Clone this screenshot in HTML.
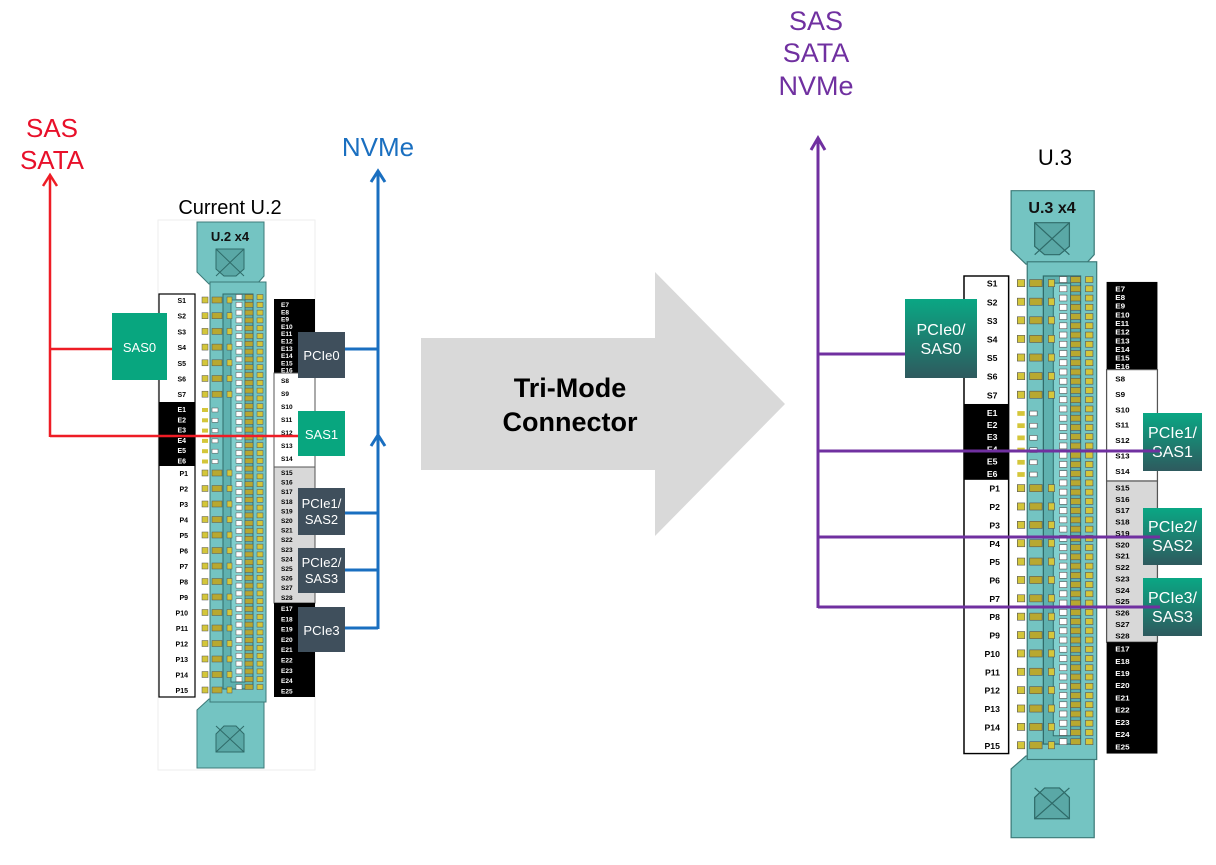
<!DOCTYPE html>
<html><head><meta charset="utf-8"><style>
html,body{margin:0;padding:0;background:#fff;}
svg{display:block;font-family:"Liberation Sans",sans-serif;}
</style></head><body>
<svg id="s" width="1216" height="865" viewBox="0 0 1216 865" xmlns="http://www.w3.org/2000/svg">
<defs>
<linearGradient id="gg" x1="0" y1="0" x2="0" y2="1"><stop offset="0" stop-color="#0aa784"/><stop offset="1" stop-color="#2e5a5e"/></linearGradient>
</defs>
<polygon points="421,338 655,338 655,272 785,404 655,536 655,470 421,470" fill="#d9d9d9"/>
<text x="570" y="397" font-size="27" font-weight="bold" text-anchor="middle">Tri-Mode</text>
<text x="570" y="431" font-size="27" font-weight="bold" text-anchor="middle">Connector</text>

<g id="c1"></g>
<g id="c2"></g>

<text x="52" y="137" font-size="26" fill="#e8102a" text-anchor="middle">SAS</text>
<text x="52" y="169" font-size="26" fill="#e8102a" text-anchor="middle">SATA</text>
<text x="378" y="156" font-size="26" fill="#1a6fc0" text-anchor="middle">NVMe</text>
<text x="230" y="214" font-size="20" text-anchor="middle">Current U.2</text>

<g stroke="#ee1c25" stroke-width="2.5" fill="none">
<line x1="50" y1="176" x2="50" y2="437"/>
<line x1="50" y1="349" x2="113" y2="349"/>
<line x1="50" y1="436" x2="305" y2="436"/>
<polyline points="43,186 50,175 57,186"/>
</g>
<g stroke="#1a6fc0" stroke-width="3" fill="none">
<line x1="378" y1="172" x2="378" y2="629"/>
<line x1="345" y1="349" x2="378" y2="349"/>
<line x1="345" y1="513" x2="378" y2="513"/>
<line x1="345" y1="570" x2="378" y2="570"/>
<line x1="345" y1="628" x2="378" y2="628"/>
<polyline points="371,182 378,171 385,182"/>
<polyline points="371,446 378,435 385,446"/>
</g>
<rect x="112" y="313" width="55" height="67" fill="#08a67f"/>
<text x="139.5" y="352" font-size="13" fill="#fff" text-anchor="middle">SAS0</text>
<g fill="#3f4f5c">
<rect x="298" y="332" width="47" height="46"/>
<rect x="298" y="488" width="47" height="47"/>
<rect x="298" y="548" width="47" height="45"/>
<rect x="298" y="607" width="47" height="45"/>
</g>
<rect x="298" y="411" width="47" height="45" fill="#08a67f"/>
<g fill="#fff" font-size="13" text-anchor="middle">
<text x="321.5" y="360">PCIe0</text>
<text x="321.5" y="439">SAS1</text>
<text x="321.5" y="508">PCIe1/</text><text x="321.5" y="524">SAS2</text>
<text x="321.5" y="567">PCIe2/</text><text x="321.5" y="583">SAS3</text>
<text x="321.5" y="635">PCIe3</text>
</g>

<g fill="#7030a0" font-size="27" text-anchor="middle">
<text x="816" y="30">SAS</text><text x="816" y="62">SATA</text><text x="816" y="95">NVMe</text>
</g>
<text x="1055" y="165" font-size="22" text-anchor="middle">U.3</text>
<g stroke="#7030a0" stroke-width="3" fill="none">
<line x1="818" y1="140" x2="818" y2="608"/>
<line x1="818" y1="354" x2="905" y2="354"/>
<line x1="818" y1="451" x2="1160" y2="451"/>
<line x1="818" y1="537" x2="1160" y2="537"/>
<line x1="818" y1="607" x2="1160" y2="607"/>
<polyline points="811,150 818,138 825,150"/>
</g>
<g fill="url(#gg)">
<rect x="905" y="299" width="72" height="79"/>
<rect x="1143" y="413" width="59" height="58"/>
<rect x="1143" y="508" width="59" height="57"/>
<rect x="1143" y="578" width="59" height="58"/>
</g>
<g fill="#fff" font-size="16" text-anchor="middle">
<text x="941" y="335">PCIe0/</text><text x="941" y="354">SAS0</text>
<text x="1172.5" y="438">PCIe1/</text><text x="1172.5" y="457">SAS1</text>
<text x="1172.5" y="532">PCIe2/</text><text x="1172.5" y="551">SAS2</text>
<text x="1172.5" y="603">PCIe3/</text><text x="1172.5" y="622">SAS3</text>
</g>
<g stroke="#7030a0" stroke-width="3">
<line x1="1010" y1="451" x2="1160" y2="451"/>
<line x1="1010" y1="537" x2="1160" y2="537"/>
<line x1="1010" y1="607" x2="1160" y2="607"/>
</g>
</svg>
<script>
var NS="http://www.w3.org/2000/svg";
function el(p,t,a,txt){var e=document.createElementNS(NS,t);for(var k in a)e.setAttribute(k,a[k]);if(txt)e.textContent=txt;p.appendChild(e);return e;}
function conn(id,tx,ty,sx,sy,title,bg){
 var g=document.getElementById(id);
 g.setAttribute("transform","translate("+tx+","+ty+") scale("+sx+","+sy+")");
 if(bg) el(g,"rect",{x:-1,y:-74,width:157,height:550,fill:"#fff",stroke:"#eee","stroke-width":1});
 el(g,"rect",{x:0,y:0,width:36,height:403,fill:"#fff",stroke:"#000","stroke-width":1.2});
 el(g,"rect",{x:0,y:108,width:36,height:64,fill:"#000"});
 var i;
 for(i=0;i<7;i++) el(g,"text",{x:27,y:9+i*15.7,"font-size":7,"font-weight":"bold","text-anchor":"end",fill:"#000"},"S"+(i+1));
 for(i=0;i<6;i++) el(g,"text",{x:27,y:118+i*10.3,"font-size":7,"font-weight":"bold","text-anchor":"end",fill:"#fff"},"E"+(i+1));
 for(i=0;i<15;i++) el(g,"text",{x:29,y:182+i*15.5,"font-size":7,"font-weight":"bold","text-anchor":"end",fill:"#000"},"P"+(i+1));
 el(g,"rect",{x:115,y:5,width:41,height:74,fill:"#000"});
 el(g,"rect",{x:115,y:79,width:41,height:94,fill:"#fff",stroke:"#555","stroke-width":1});
 el(g,"rect",{x:115,y:173,width:41,height:136,fill:"#d8d8d8",stroke:"#555","stroke-width":1});
 el(g,"rect",{x:115,y:309,width:41,height:94,fill:"#000"});
 for(i=0;i<10;i++) el(g,"text",{x:122,y:13+i*7.3,"font-size":6.5,"font-weight":"bold",fill:"#fff"},"E"+(i+7));
 for(i=0;i<7;i++) el(g,"text",{x:122,y:89+i*13,"font-size":6.5,"font-weight":"bold",fill:"#000"},"S"+(i+8));
 for(i=0;i<14;i++) el(g,"text",{x:122,y:181+i*9.6,"font-size":6.5,"font-weight":"bold",fill:"#000"},"S"+(i+15));
 for(i=0;i<9;i++) el(g,"text",{x:122,y:317+i*10.3,"font-size":6.5,"font-weight":"bold",fill:"#fff"},"E"+(i+17));
 el(g,"path",{d:"M38,-72 H105 V-18 L98,-10 H50 L38,-22 Z",fill:"#74c4c2",stroke:"#3c7a78","stroke-width":1});
 el(g,"path",{d:"M38,416 L50,405 H105 V474 H38 Z",fill:"#74c4c2",stroke:"#3c7a78","stroke-width":1});
 el(g,"text",{x:71,y:-53,"font-size":13,"font-weight":"bold","text-anchor":"middle",fill:"#111"},title);
 el(g,"path",{d:"M57,-45 H85 V-25 L77,-18 H65 L57,-25 Z",fill:"#5aa8a6",stroke:"#2f6b69"});
 el(g,"path",{d:"M57,-45 L85,-18 M85,-45 L57,-18",stroke:"#2f6b69","stroke-width":1});
 el(g,"path",{d:"M57,440 L65,432 H77 L85,440 V458 H57 Z",fill:"#5aa8a6",stroke:"#2f6b69"});
 el(g,"path",{d:"M57,432 L85,458 M85,432 L57,458",stroke:"#2f6b69","stroke-width":1});
 el(g,"rect",{x:51,y:-12,width:56,height:420,fill:"#74c4c2",stroke:"#3c7a78","stroke-width":1});
 el(g,"rect",{x:64,y:0,width:30,height:395,fill:"#5fb1af",stroke:"#2f6b69","stroke-width":1});
 el(g,"rect",{x:72,y:6,width:14,height:382,fill:"#80cfcd",stroke:"#2f6b69","stroke-width":0.8});
 for(i=0;i<22;i++){
  var y; if(i<7) y=6+i*15.7; else y=179+(i-7)*15.5;
  el(g,"rect",{x:43,y:y-3,width:6,height:6,fill:"#d4c63a",stroke:"#555","stroke-width":0.5});
  el(g,"rect",{x:53,y:y-3,width:10,height:6,fill:"#b8a830",stroke:"#555","stroke-width":0.5});
  el(g,"rect",{x:68,y:y-3,width:5,height:6,fill:"#d4c63a",stroke:"#555","stroke-width":0.5});
 }
 for(i=0;i<6;i++){var y2=116+i*10.3;
  el(g,"rect",{x:43,y:y2-2,width:6,height:4,fill:"#d4c63a"});
  el(g,"rect",{x:53,y:y2-2,width:6,height:4,fill:"#fff",stroke:"#555","stroke-width":0.5});}
 for(i=0;i<51;i++){var y3=3+i*7.8;
  el(g,"rect",{x:77,y:y3-2.5,width:6,height:5,fill:"#fff",stroke:"#555","stroke-width":0.5});
  el(g,"rect",{x:86,y:y3-2.5,width:8,height:5,fill:"#b8a830",stroke:"#555","stroke-width":0.5});
  el(g,"rect",{x:98,y:y3-2.5,width:6,height:5,fill:"#d4c63a",stroke:"#555","stroke-width":0.5});
 }
}
conn("c1",159,294,1,1,"U.2 x4",true);
conn("c2",964,276,1.24,1.185,"U.3 x4",false);
</script>
</body></html>
